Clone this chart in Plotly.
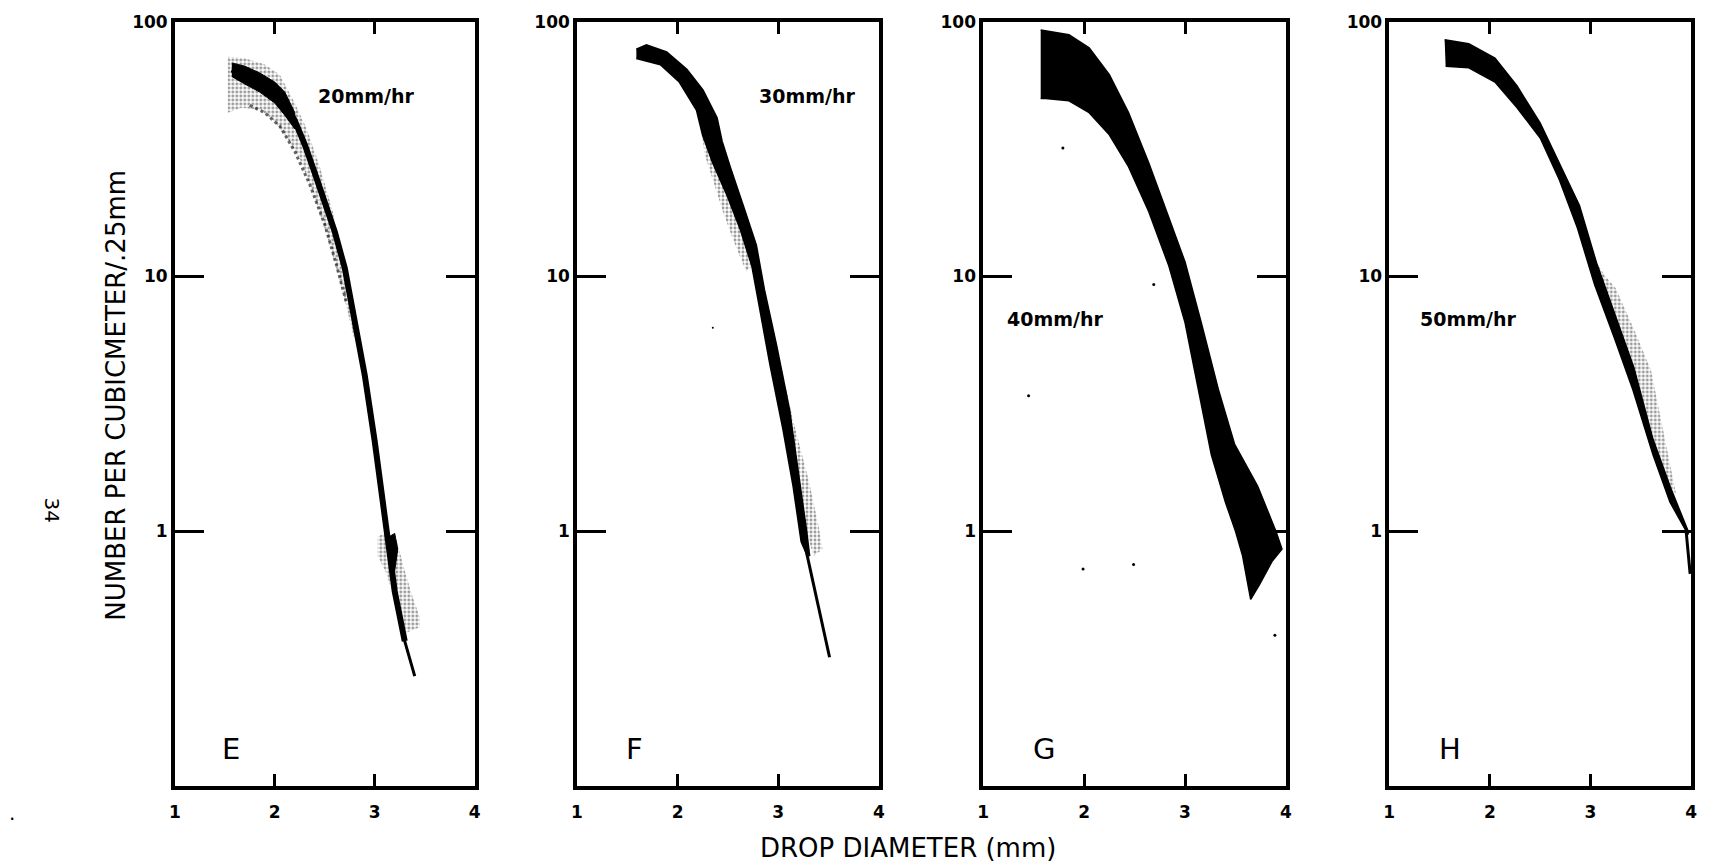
import math
import plotly.graph_objects as go

# ---------------- data ----------------
x_ticks = [1, 2, 3, 4]
y_ticks = [1, 10, 100]
y_ticktext = ["1", "10", "100"]

panel_letters = ["E", "F", "G", "H"]
rate_labels = ["20mm/hr", "30mm/hr", "40mm/hr", "50mm/hr"]
rate_x = [2.92, 3.29, 1.72, 1.79]
rate_y = [51, 51, 6.8, 6.8]
letter_x = [1.56, 1.57, 1.6, 1.6]
letter_y = [0.139, 0.139, 0.139, 0.139]

# Panel E (20 mm/hr)
E_core_x = [1.57, 1.7, 1.85, 2.0, 2.1, 2.2, 2.3, 2.4, 2.5, 2.6, 2.7, 2.8, 2.9, 3.0, 3.1, 3.2, 3.3]
E_core_y = [65, 62, 58, 53, 48, 41, 33, 25.5, 19.5, 15, 10.8, 6.8, 4.1, 2.25, 1.12, 0.58, 0.37]
E_tail_x = [3.2, 3.3, 3.4]
E_tail_y = [0.58, 0.37, 0.27]
E_head_x = [1.57, 1.7, 1.85, 2.0, 2.1, 2.2]
E_head_hi = [69, 67, 63, 58, 53, 44]
E_head_lo = [61, 57, 53, 48, 43, 38]
E_fringe_hi_x = [1.53, 1.7, 1.9, 2.05, 2.2, 2.32, 2.45, 2.58, 2.66, 2.75]
E_fringe_hi_y = [73, 72, 68, 62, 48, 38, 27, 18, 12.5, 8.5]
E_fringe_lo_x = [1.53, 1.67, 1.86, 1.99, 2.12, 2.25, 2.38, 2.51, 2.61, 2.71, 2.79, 2.85]
E_fringe_lo_y = [44, 46, 45, 41, 35, 29, 21.5, 15, 11, 7.8, 5.8, 5.0]
E_second_x = [1.75, 1.9, 2.05, 2.2, 2.35, 2.5, 2.62, 2.72]
E_second_y = [47, 44, 39, 31, 23, 16, 11, 7.8]
E_blob_hi_x = [3.03, 3.12, 3.22, 3.3, 3.38, 3.45]
E_blob_hi_y = [0.95, 1.0, 0.92, 0.7, 0.55, 0.46]
E_blob_lo_x = [3.03, 3.12, 3.22, 3.32, 3.45]
E_blob_lo_y = [0.8, 0.68, 0.5, 0.4, 0.42]
E_dark_x = [3.14, 3.2, 3.23, 3.2, 3.14]
E_dark_y = [0.95, 0.98, 0.85, 0.7, 0.8]

# Panel F (30 mm/hr)
F_hi_x = [1.59, 1.69, 1.89, 2.09, 2.25, 2.39, 2.44, 2.52, 2.65, 2.78, 2.86, 2.98, 3.11, 3.21, 3.28, 3.31]
F_hi_y = [78, 81, 76, 65, 54, 42, 34, 27, 19, 13.3, 8.9, 5.4, 3.0, 1.6, 1.0, 0.8]
F_lo_x = [1.59, 1.83, 2.02, 2.19, 2.25, 2.35, 2.49, 2.62, 2.74, 2.82, 2.92, 3.05, 3.15, 3.23, 3.28]
F_lo_y = [72, 68, 58, 45, 36, 28, 21, 15.5, 11, 7.4, 4.5, 2.5, 1.5, 0.91, 0.82]
F_tail_x = [3.26, 3.38, 3.51]
F_tail_y = [0.9, 0.55, 0.32]
F_fringeL_x = [2.22, 2.27, 2.35, 2.45, 2.55, 2.68, 2.74, 2.62, 2.49, 2.35, 2.25]
F_fringeL_y = [42, 30, 24, 18, 14, 10.5, 11, 15.5, 21, 28, 36]
F_fringeR_x = [2.98, 3.0, 3.15, 3.3, 3.4, 3.44, 3.35, 3.28, 3.21, 3.11]
F_fringeR_y = [5.4, 5.0, 2.7, 1.6, 1.05, 0.85, 0.8, 1.0, 1.6, 3.0]
F_dot_x = [2.35]
F_dot_y = [6.3]

# Panel G (40 mm/hr)
G_hi_x = [1.57, 1.85, 2.05, 2.25, 2.44, 2.64, 2.84, 3.0, 3.16, 3.33, 3.49, 3.72, 3.9, 3.96]
G_hi_y = [93, 89, 79, 62, 44, 28, 17, 11.4, 6.6, 3.6, 2.2, 1.5, 1.0, 0.85]
G_lo_x = [1.57, 1.62, 1.85, 2.05, 2.25, 2.44, 2.64, 2.84, 3.0, 3.13, 3.26, 3.4, 3.5, 3.57, 3.62, 3.65, 3.74, 3.86]
G_lo_y = [50, 50, 49, 44, 36, 27, 18, 11, 6.6, 3.6, 2.0, 1.3, 1.0, 0.8, 0.62, 0.54, 0.62, 0.76]
G_dot_x = [1.79, 2.69, 1.45, 1.99, 2.49, 3.89]
G_dot_y = [32, 9.3, 3.4, 0.71, 0.74, 0.39]

# Panel H (50 mm/hr)
H_hi_x = [1.55, 1.79, 2.05, 2.27, 2.50, 2.69, 2.89, 3.06, 3.25, 3.43, 3.62, 3.79, 3.97]
H_hi_y = [85, 82, 72, 56, 40, 28, 19, 11.3, 6.9, 4.4, 2.3, 1.5, 1.0]
H_lo_x = [1.56, 1.79, 2.05, 2.27, 2.50, 2.69, 2.87, 3.04, 3.24, 3.42, 3.62, 3.79, 3.97]
H_lo_y = [67, 66, 58, 46, 35, 24, 15.5, 9.3, 5.7, 3.6, 2.0, 1.3, 0.97]
H_tail_x = [3.95, 3.99]
H_tail_y = [1.0, 0.68]
H_fringe_x = [3.06, 3.15, 3.25, 3.44, 3.6, 3.73, 3.8, 3.85, 3.79, 3.62, 3.43, 3.25]
H_fringe_y = [11.3, 10, 9, 6.1, 4.3, 2.4, 1.7, 1.4, 1.5, 2.3, 4.4, 6.9]

# ---------------- figure ----------------
W, H = 1720, 863
panel_px = [(170, 472), (575, 879), (984, 1289), (1393, 1697)]
top_px, bot_px = 12, 785
FONT = "DejaVu Sans"

fig = go.Figure()


def ax(i):
    return ("x" if i == 0 else f"x{i+1}", "y" if i == 0 else f"y{i+1}")


def poly(i, xs, ys, color, lw=1.0, stipple=False):
    xa, ya = ax(i)
    kw = {}
    if stipple:
        kw["fillpattern"] = dict(shape=".", size=4, solidity=0.45, fgcolor="rgba(0,0,0,0.8)",
                                 bgcolor="rgba(255,255,255,0)")
        fill_color = "rgba(0,0,0,0.12)"
        line_color = "rgba(0,0,0,0)"
    else:
        fill_color = color
        line_color = color
    fig.add_trace(go.Scatter(x=xs, y=ys, mode="lines", fill="toself", fillcolor=fill_color,
                             line=dict(color=line_color, width=lw), xaxis=xa, yaxis=ya,
                             hoverinfo="skip", showlegend=False, **kw))


def band(i, hx, hy, lx, ly, color, lw=1.0, stipple=False):
    poly(i, list(hx) + list(lx)[::-1], list(hy) + list(ly)[::-1], color, lw, stipple)


def line(i, xs, ys, width, color="black", dash=None):
    xa, ya = ax(i)
    fig.add_trace(go.Scatter(x=xs, y=ys, mode="lines",
                             line=dict(color=color, width=width, dash=dash),
                             xaxis=xa, yaxis=ya, hoverinfo="skip", showlegend=False))


def dots(i, xs, ys, size=3):
    xa, ya = ax(i)
    fig.add_trace(go.Scatter(x=xs, y=ys, mode="markers",
                             marker=dict(color="black", size=size),
                             xaxis=xa, yaxis=ya, hoverinfo="skip", showlegend=False))


# E
band(0, E_fringe_hi_x, E_fringe_hi_y, E_fringe_lo_x, E_fringe_lo_y, None, stipple=True)
band(0, E_blob_hi_x, E_blob_hi_y, E_blob_lo_x, E_blob_lo_y, None, stipple=True)
line(0, E_second_x, E_second_y, 3, color="rgba(0,0,0,0.6)", dash="dot")
band(0, E_head_x, E_head_hi, E_head_x, E_head_lo, "black")
line(0, E_core_x, E_core_y, 6)
line(0, E_tail_x, E_tail_y, 3)
poly(0, E_dark_x, E_dark_y, "black")

# F
poly(1, F_fringeL_x, F_fringeL_y, None, stipple=True)
poly(1, F_fringeR_x, F_fringeR_y, None, stipple=True)
band(1, F_hi_x, F_hi_y, F_lo_x, F_lo_y, "black", 2)
line(1, F_tail_x, F_tail_y, 3)
dots(1, F_dot_x, F_dot_y, 2)

# G
band(2, G_hi_x, G_hi_y, G_lo_x, G_lo_y, "black", 1.5)
dots(2, G_dot_x, G_dot_y, 3)

# H
poly(3, H_fringe_x, H_fringe_y, None, stipple=True)
band(3, H_hi_x, H_hi_y, H_lo_x, H_lo_y, "black", 1.5)
line(3, H_tail_x, H_tail_y, 3)

layout = dict(
    width=W, height=H, paper_bgcolor="white", plot_bgcolor="white",
    margin=dict(l=0, r=0, t=0, b=0), showlegend=False,
)
annotations = []
tickfont = dict(family=FONT, size=17, color="black", weight="bold")
for i in range(4):
    x0, x1 = panel_px[i]
    xkey = "xaxis" if i == 0 else f"xaxis{i+1}"
    ykey = "yaxis" if i == 0 else f"yaxis{i+1}"
    xa, ya = ax(i)
    layout[xkey] = dict(
        domain=[x0 / W, x1 / W], range=[1, 4], anchor=ya,
        tickvals=x_ticks, ticktext=[str(v) for v in x_ticks],
        ticks="inside", ticklen=12, tickwidth=2.5, tickcolor="black",
        showline=True, linewidth=3.5, linecolor="black", mirror="ticks",
        showgrid=False, zeroline=False, tickfont=tickfont, ticklabelstandoff=8,
    )
    layout[ykey] = dict(
        domain=[1 - bot_px / H, 1 - top_px / H], type="log", range=[-1, 2], anchor=xa,
        tickvals=y_ticks, ticktext=y_ticktext,
        ticks="inside", ticklen=29, tickwidth=2.5, tickcolor="black",
        showline=True, linewidth=3.5, linecolor="black", mirror="ticks",
        showgrid=False, zeroline=False, tickfont=tickfont,
    )
    annotations.append(dict(xref=xa, yref=ya, x=rate_x[i], y=math.log10(rate_y[i]),
                            text=rate_labels[i], showarrow=False,
                            xanchor="center", yanchor="middle",
                            font=dict(family=FONT, size=19, color="black", weight="bold")))
    annotations.append(dict(xref=xa, yref=ya, x=letter_x[i], y=math.log10(letter_y[i]),
                            text=panel_letters[i], showarrow=False,
                            xanchor="center", yanchor="middle",
                            font=dict(family=FONT, size=29, color="black")))

annotations.append(dict(xref="paper", yref="paper", x=908 / W, y=1 - 848 / H,
                        xanchor="center", yanchor="middle",
                        text="DROP DIAMETER (mm)", showarrow=False,
                        font=dict(family=FONT, size=26, color="black")))
annotations.append(dict(xref="paper", yref="paper", x=111 / W, y=1 - 390 / H,
                        xanchor="center", yanchor="middle",
                        text="NUMBER PER CUBICMETER/.25mm", textangle=-90, showarrow=False,
                        font=dict(family=FONT, size=26, color="black")))
annotations.append(dict(xref="paper", yref="paper", x=46 / W, y=1 - 506 / H,
                        xanchor="center", yanchor="middle",
                        text="34", textangle=90, showarrow=False,
                        font=dict(family=FONT, size=20, color="black")))
annotations.append(dict(xref="paper", yref="paper", x=6 / W, y=1 - 812 / H,
                        xanchor="center", yanchor="middle",
                        text=".", showarrow=False,
                        font=dict(family=FONT, size=20, color="black")))
layout["annotations"] = annotations
fig.update_layout(**layout)

fig.write_html("out.html", config={"displayModeBar": False},
               post_script="document.body.style.margin='0';document.body.style.overflow='hidden';")
